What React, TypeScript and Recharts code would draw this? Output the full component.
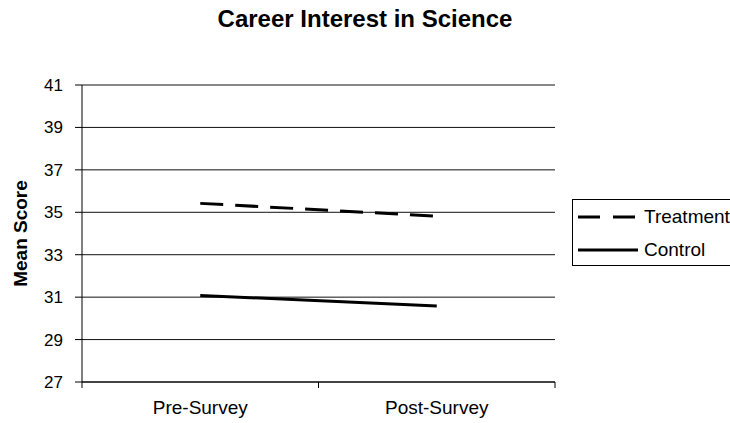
import React from "react";
import {
  LineChart,
  Line,
  XAxis,
  YAxis,
  CartesianGrid,
  Legend,
} from "recharts";

// chart values
const categories = ["Pre-Survey", "Post-Survey"];
const treatment = [35.42, 34.82];
const control = [31.08, 30.58];
const yTicks = [27, 29, 31, 33, 35, 37, 39, 41];
// category boundaries (tick marks) and centres (labels), Excel style
const xTicks = [0, 0.5, 1, 1.5, 2];
const seriesNames = ["Treatment", "Control"];

const data = categories.map((name, i) => ({
  name,
  pos: i + 0.5,
  Treatment: treatment[i],
  Control: control[i],
}));

const FONT = "'Liberation Sans', Arial, sans-serif";
const DASH = "23 12";

function CategoryTick(props: any) {
  const { x, y, payload } = props;
  const v = payload.value;
  if (Number.isInteger(v)) {
    return <line x1={x} y1={y} x2={x} y2={y + 6} stroke="#000" strokeWidth={1} />;
  }
  return (
    <text
      x={x}
      y={y + 19}
      dy="0.71em"
      textAnchor="middle"
      fill="#000"
      fontSize={19}
      fontFamily={FONT}
    >
      {categories[Math.floor(v)]}
    </text>
  );
}

function LegendBox() {
  return (
    <div
      style={{
        border: "1px solid #000",
        background: "#fff",
        width: 180,
        height: 67,
        boxSizing: "border-box",
        fontFamily: FONT,
        fontSize: 19,
        color: "#000",
      }}
    >
      {seriesNames.map((name) => (
        <div key={name} style={{ display: "flex", alignItems: "center", height: 33 }}>
          <svg width={66} height={10} style={{ marginLeft: 5 }}>
            <line
              x1={0}
              y1={5}
              x2={60}
              y2={5}
              stroke="#000"
              strokeWidth={3}
              strokeDasharray={name === "Treatment" ? "22 13" : undefined}
            />
          </svg>
          <span>{name}</span>
        </div>
      ))}
    </div>
  );
}

export default function App() {
  return (
    <div
      style={{
        position: "absolute",
        left: 0,
        top: 0,
        width: 730,
        height: 423,
        overflow: "hidden",
        background: "#fff",
      }}
    >
      <div
        style={{
          position: "absolute",
          top: 7,
          left: 0,
          width: 730,
          textAlign: "center",
          fontFamily: FONT,
          fontWeight: "bold",
          fontSize: 24,
          lineHeight: "24px",
        }}
      >
        Career Interest in Science
      </div>
      <LineChart
        width={730}
        height={423}
        data={data}
        margin={{ top: 85, right: 175, bottom: 0, left: 0 }}
      >
        <CartesianGrid horizontal vertical={false} stroke="#111" />
        <XAxis
          dataKey="pos"
          type="number"
          domain={[0, 2]}
          ticks={xTicks}
          interval={0}
          height={41}
          axisLine={{ stroke: "#000" }}
          tickLine={false}
          tickSize={0}
          tickMargin={0}
          tick={<CategoryTick />}
        />
        <YAxis
          domain={[27, 41]}
          ticks={yTicks}
          width={82}
          axisLine={{ stroke: "#000" }}
          tickLine={{ stroke: "#000" }}
          tickSize={7}
          tickMargin={12}
          tick={{ fill: "#000", fontSize: 17, fontFamily: FONT }}
          label={{
            value: "Mean Score",
            angle: -90,
            position: "center",
            dx: -21,
            style: { fontFamily: FONT, fontWeight: "bold", fontSize: 19, fill: "#000" },
          }}
        />
        <YAxis
          yAxisId="frame"
          orientation="right"
          width={0}
          domain={[27, 41]}
          tick={false}
          tickLine={false}
          axisLine={{ stroke: "#000" }}
        />
        <Legend
          layout="horizontal"
          align="center"
          verticalAlign="middle"
          content={() => <LegendBox />}
          wrapperStyle={{ left: 572, top: 199, right: "auto", bottom: "auto", width: 180 }}
        />
        <Line
          dataKey="Treatment"
          stroke="#000"
          strokeWidth={3}
          strokeDasharray={DASH}
          dot={false}
          isAnimationActive={false}
        />
        <Line
          dataKey="Control"
          stroke="#000"
          strokeWidth={3}
          dot={false}
          isAnimationActive={false}
        />
      </LineChart>
    </div>
  );
}
